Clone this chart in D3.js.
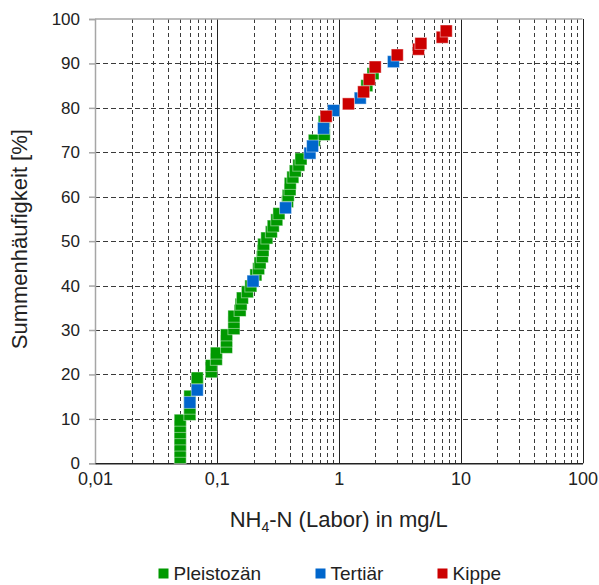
<!DOCTYPE html>
<html>
<head>
<meta charset="utf-8">
<script src="https://cdn.jsdelivr.net/npm/d3@7"></script>
<style>
  html, body { margin: 0; padding: 0; background: #fff; }
  svg { display: block; font-family: "Liberation Sans", Arial, sans-serif; }
</style>
</head>
<body>
<svg id="chart" width="599" height="585"></svg>
<script>
// Cumulative frequency of NH4-N (lab) per aquifer group: [concentration mg/L, percent]
const pleistozaen = [
  [0.05, 1.3], [0.05, 2.7], [0.05, 4.1], [0.05, 5.5], [0.05, 6.9], [0.05, 8.3], [0.05, 9.7],
  [0.06, 11.0], [0.06, 12.4], [0.06, 15.1],
  [0.069, 17.9], [0.069, 19.2],
  [0.09, 20.6], [0.09, 22.0],
  [0.099, 23.4], [0.099, 24.8],
  [0.12, 26.1], [0.12, 27.5], [0.12, 28.9],
  [0.138, 30.3], [0.138, 31.7], [0.138, 33.1],
  [0.155, 34.4], [0.158, 35.8], [0.162, 37.2],
  [0.178, 38.6], [0.19, 39.9],
  [0.209, 42.4], [0.22, 43.8], [0.226, 45.1], [0.236, 46.5], [0.239, 47.9], [0.242, 49.3], [0.257, 50.7],
  [0.28, 52.1], [0.29, 53.4], [0.31, 54.8], [0.323, 56.2],
  [0.38, 58.9], [0.385, 60.3], [0.398, 61.6], [0.40, 63.0], [0.42, 64.4], [0.44, 65.8], [0.47, 67.1], [0.49, 68.5],
  [0.63, 72.7], [0.76, 74.0], [0.76, 76.9], [1.70, 85.0], [1.91, 87.7]
];
const tertiaer = [
  [0.06, 13.7], [0.069, 16.5], [0.198, 41.0], [0.366, 57.5], [0.58, 69.8],
  [0.61, 71.4], [0.75, 75.4], [0.906, 79.4], [1.5, 82.2], [2.81, 90.4]
];
const kippe = [
  [0.788, 78.1], [1.2, 80.9], [1.6, 83.6], [1.78, 86.4], [1.99, 89.2],
  [3.02, 91.9], [4.51, 93.2], [4.72, 94.5], [7.06, 95.9], [7.62, 97.3]
];

const seriesNames = ["Pleistozän", "Tertiär", "Kippe"];
const seriesColors = ["#009900", "#0066cc", "#cc0000"];
const seriesData = [pleistozaen, tertiaer, kippe];

const xTickValues = [0.01, 0.1, 1, 10, 100];
const xTickLabels = ["0,01", "0,1", "1", "10", "100"];
const yTickValues = [0, 10, 20, 30, 40, 50, 60, 70, 80, 90, 100];

const svg = d3.select("#chart");
const plot = { left: 95, right: 582.5, top: 19, bottom: 463.3 };

const x = d3.scaleLog().domain([0.01, 100]).range([plot.left, plot.right]);
const y = d3.scaleLinear().domain([0, 100]).range([plot.bottom, plot.top]);

// minor vertical grid (2..9 in every decade)
const minor = [];
[0.01, 0.1, 1, 10].forEach(d => { for (let k = 2; k <= 9; k++) minor.push(d * k); });

const grid = svg.append("g");
grid.selectAll("line.vminor").data(minor).join("line")
  .attr("x1", d => Math.round(x(d)) + 0.5).attr("x2", d => Math.round(x(d)) + 0.5)
  .attr("y1", plot.top).attr("y2", plot.bottom)
  .attr("stroke", "#3a3a3a").attr("stroke-width", 1).attr("stroke-dasharray", "4,3");

// horizontal grid (dashed)
grid.selectAll("line.h").data(yTickValues.filter(v => v > 0 && v < 100)).join("line")
  .attr("x1", plot.left).attr("x2", plot.right)
  .attr("y1", d => Math.round(y(d)) + 0.5).attr("y2", d => Math.round(y(d)) + 0.5)
  .attr("stroke", "#3a3a3a").attr("stroke-width", 1).attr("stroke-dasharray", "5,3");

// major vertical grid (solid)
grid.selectAll("line.vmajor").data([0.1, 1, 10, 100]).join("line")
  .attr("x1", d => Math.round(x(d)) + 0.5).attr("x2", d => Math.round(x(d)) + 0.5)
  .attr("y1", plot.top).attr("y2", plot.bottom)
  .attr("stroke", "#222").attr("stroke-width", 1);

// top line at 100 %
grid.append("line")
  .attr("x1", plot.left).attr("x2", plot.right)
  .attr("y1", y(100)).attr("y2", y(100))
  .attr("stroke", "#a6a6a6").attr("stroke-width", 1.5);

// y axis (left)
const yAxis = d3.axisLeft(y).tickValues(yTickValues).tickSize(6).tickPadding(9);
const gy = svg.append("g").attr("transform", `translate(${plot.left},0)`).call(yAxis);
gy.select(".domain").attr("stroke", "#a6a6a6").attr("stroke-width", 1.5);
gy.selectAll(".tick line").attr("stroke", "#a6a6a6").attr("stroke-width", 1.5);
gy.selectAll(".tick text").attr("font-size", 17).attr("fill", "#222")
  .attr("font-family", "'Liberation Sans', Arial, sans-serif");

// x axis (bottom)
const xAxis = d3.axisBottom(x).tickValues(xTickValues)
  .tickFormat((d, i) => xTickLabels[i]).tickSize(0).tickPadding(9);
const gx = svg.append("g").attr("transform", `translate(0,${plot.bottom})`).call(xAxis);
gx.select(".domain").attr("stroke", "#222").attr("stroke-width", 1.5);
gx.selectAll(".tick text").attr("font-size", 18).attr("fill", "#222")
  .attr("font-family", "'Liberation Sans', Arial, sans-serif");

// markers: green first, then blue, then red on top
const mk = 12;
seriesData.forEach((data, si) => {
  svg.append("g").selectAll("rect").data(data).join("rect")
    .attr("x", d => x(d[0]) - mk / 2)
    .attr("y", d => y(d[1]) - mk / 2)
    .attr("width", mk).attr("height", mk)
    .attr("fill", seriesColors[si])
    .attr("stroke", "rgba(255,255,255,0.45)")
    .attr("stroke-width", 1);
});

// axis titles
const xt = svg.append("text")
  .attr("x", (plot.left + plot.right) / 2).attr("y", 527)
  .attr("text-anchor", "middle").attr("font-size", 22).attr("fill", "#222");
xt.append("tspan").text("NH");
xt.append("tspan").attr("font-size", 14).attr("dy", 5).text("4");
xt.append("tspan").attr("dy", -5).text("-N (Labor) in mg/L");

svg.append("text")
  .attr("transform", `translate(27,${(plot.top + plot.bottom) / 2 - 2}) rotate(-90)`)
  .attr("text-anchor", "middle").attr("font-size", 22).attr("fill", "#222")
  .text("Summenhäufigkeit [%]");

// legend
const legendX = [158.5, 315.5, 437.5];
const legend = svg.append("g");
seriesNames.forEach((name, i) => {
  legend.append("rect")
    .attr("x", legendX[i]).attr("y", 568.5).attr("width", 10).attr("height", 10)
    .attr("fill", seriesColors[i]);
  legend.append("text")
    .attr("x", legendX[i] + 15).attr("y", 580)
    .attr("font-size", 19).attr("fill", "#222").text(name);
});
</script>
</body>
</html>
